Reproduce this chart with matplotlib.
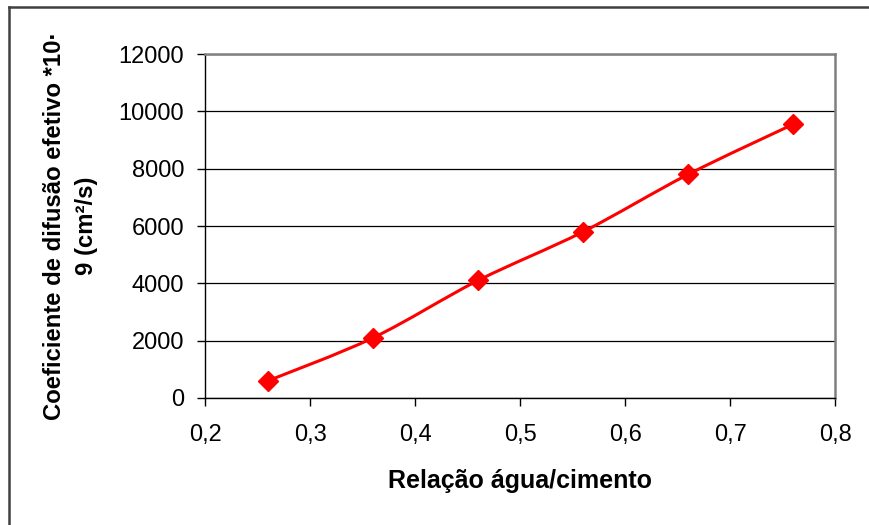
"""Coeficiente de difusão efetivo vs relação água/cimento."""
import matplotlib
matplotlib.use("Agg")
import matplotlib.pyplot as plt
from matplotlib.path import Path
import matplotlib.patches as patches
from matplotlib.lines import Line2D
import numpy as np

plt.rcParams["font.family"] = ["Liberation Sans", "DejaVu Sans"]

# data
wc_ratio = [0.26, 0.36, 0.46, 0.56, 0.66, 0.76]
diff_coef = [600, 2100, 4100, 5800, 7800, 9550]
x_ticks = [0.2, 0.3, 0.4, 0.5, 0.6, 0.7, 0.8]
y_ticks = [0, 2000, 4000, 6000, 8000, 10000, 12000]

RED = "#FF0000"


def smooth_path(xs, ys, tension=1 / 6):
    # Excel-style smoothed line as cubic bezier (catmull-rom control points)
    pts = np.column_stack([xs, ys]).astype(float)
    verts = [pts[0]]
    codes = [Path.MOVETO]
    n = len(pts)
    for i in range(n - 1):
        p0 = pts[max(i - 1, 0)]
        p1 = pts[i]
        p2 = pts[i + 1]
        p3 = pts[min(i + 2, n - 1)]
        c1 = p1 + (p2 - p0) * tension
        c2 = p2 - (p3 - p1) * tension
        verts += [c1, c2, p2]
        codes += [Path.CURVE4] * 3
    return Path(verts, codes)


fig = plt.figure(figsize=(8.69, 5.25), dpi=100)
ax = fig.add_axes([0.236, 0.242, 0.725, 0.655])

# outer frame (left + top visible)
fig.add_artist(Line2D([0.0105, 0.0105], [0, 0.987], transform=fig.transFigure,
                      color="#404040", lw=1.8))
fig.add_artist(Line2D([0.0105, 1.0], [0.987, 0.987], transform=fig.transFigure,
                      color="#404040", lw=1.8))

ax.set_xlim(0.2, 0.8)
ax.set_ylim(0, 12000)
ax.set_xticks(x_ticks)
ax.set_yticks(y_ticks)
ax.set_xticklabels([f"{v:.1f}".replace(".", ",") for v in x_ticks])
ax.set_yticklabels([str(v) for v in y_ticks])

ax.grid(axis="y", color="#000000", lw=0.9)
ax.set_axisbelow(True)
for sp in ["top", "right"]:
    ax.spines[sp].set_color("#808080")
    ax.spines[sp].set_linewidth(1.8)
for sp in ["left", "bottom"]:
    ax.spines[sp].set_color("#000000")
    ax.spines[sp].set_linewidth(1.0)

ax.tick_params(axis="both", direction="out", length=6, width=1.0,
               labelsize=17, colors="#000000")
ax.tick_params(axis="y", pad=9)
ax.tick_params(axis="x", pad=13)

path = smooth_path(wc_ratio, diff_coef)
ax.add_patch(patches.PathPatch(path, facecolor="none", edgecolor=RED, lw=2.2,
                               zorder=3))
ax.plot(wc_ratio, diff_coef, linestyle="none", marker="D", markersize=10,
        color=RED, zorder=4)

ax.set_xlabel("Relação água/cimento", fontsize=18, fontweight="bold",
              labelpad=16)
ax.set_ylabel("Coeficiente de difusão efetivo *10·\n9 (cm²/s)", fontsize=17.2,
              fontweight="bold", labelpad=15, linespacing=1.5)

fig.savefig("out.png", dpi=100)
